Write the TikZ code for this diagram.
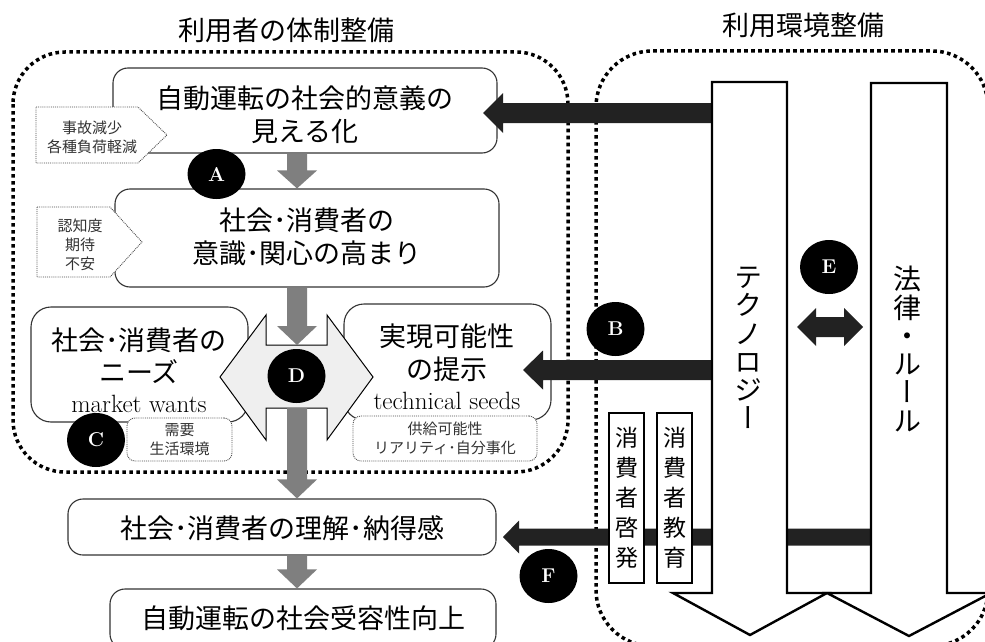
\documentclass[tikz,border=0pt]{standalone}
\usepackage{fontspec}
\usepackage{graphicx}
\usetikzlibrary{calc,shapes.geometric}
\newfontfamily\jp{Noto Sans CJK JP}
\newfontfamily\jpv{Noto Sans CJK JP}[RawFeature=+vert]
\definecolor{blk}{HTML}{222222}
\definecolor{garr}{HTML}{7F7F7F}
\definecolor{dfill}{HTML}{EFEFEF}
\definecolor{edge}{HTML}{333333}
\tikzset{
  region/.style={line width=3.5pt, dash pattern=on 3.6pt off 3.4pt, rounded corners=52pt},
  rbox/.style={rectangle, draw=edge, line width=1.1pt, fill=white, rounded corners=15pt, inner sep=0pt},
  tagline/.style={draw=black!70, line width=0.9pt, densely dotted, fill=white},
  tagtext/.style={font=\jp\fontsize{15}{19}\selectfont, text=black!80, align=center},
  bigtext/.style={font=\jp\fontsize{27}{33}\selectfont, align=center, inner sep=0pt},
  lattext/.style={font=\fontsize{25}{25}\selectfont, inner sep=0pt},
  circlab/.style={ellipse, fill=black, text=white, inner sep=0pt, minimum width=58pt, minimum height=54pt, font=\bfseries\fontsize{20}{20}\selectfont},
  cbox/.style={rectangle, draw=black, line width=1.2pt, fill=white, minimum width=35pt, minimum height=170pt, inner sep=0pt, font=\jp\fontsize{23}{30}\selectfont, align=center},
  vtext/.style={font=\jpv\fontsize{28}{28.3}\selectfont, align=center, inner sep=0pt},
  bigarrow/.style={draw=black, line width=2.4pt, fill=white, line join=miter}
}
% left-pointing block arrow: #1 start, #2 tip, #3 shaft half, #4 head half, #5 head length, #6 colour
\newcommand\leftblock[6]{%
  \fill[#6] let \p1=(#1), \p2=(#2) in
  (\x2,\y2) -- (\x2+#5pt,\y2+#4pt) -- (\x2+#5pt,\y2+#3pt) -- (\x1,\y2+#3pt)
  -- (\x1,\y2-#3pt) -- (\x2+#5pt,\y2-#3pt) -- (\x2+#5pt,\y2-#4pt) -- cycle;}
% downward block arrow
\newcommand\downblock[6]{%
  \fill[#6] let \p1=(#1), \p2=(#2) in
  (\x2,\y2) -- (\x2-#4pt,\y2+#5pt) -- (\x2-#3pt,\y2+#5pt) -- (\x2-#3pt,\y1)
  -- (\x2+#3pt,\y1) -- (\x2+#3pt,\y2+#5pt) -- (\x2+#4pt,\y2+#5pt) -- cycle;}
\begin{document}
\begin{tikzpicture}[x=1pt,y=-1pt]
\useasboundingbox (0,0) rectangle (985,642);
\fill[white] (0,0) rectangle (985,642);

% titles
\node[bigtext] (t1) at (286,30) {利用者の体制整備};
\node[bigtext] (t2) at (803,25) {利用環境整備};

% dotted regions
\draw[region] (13,52) rectangle (568,472);
\draw[region, rounded corners=56pt] (596,51) rectangle (988,646);

% boxes
\node[rbox, minimum width=384pt, minimum height=85pt] (b1) at (305,110.5) {};
\node[bigtext] (b1t) at (305,115) {自動運転の社会的意義の\\見える化};
\node[rbox, minimum width=384pt, minimum height=98pt] (b2) at (307,238) {};
\node[bigtext] (b2t) at (307,237) {社会･消費者の\\意識･関心の高まり};
\node[rbox, rounded corners=20pt, minimum width=217pt, minimum height=115pt] (bn) at (139.5,364.5) {};
\node[bigtext, font=\jp\fontsize{27}{32}\selectfont] (bnt) at (139,356) {社会･消費者の\\ニーズ};
\node[lattext] (bnl) at (139,404) {market wants};
\node[rbox, rounded corners=20pt, minimum width=207pt, minimum height=116pt] (bs) at (447.5,362) {};
\node[bigtext] (bst) at (447,353) {実現可能性\\の提示};
\node[lattext] (bsl) at (447,401) {technical seeds};
\node[rbox, minimum width=428pt, minimum height=56pt] (b3) at (282,527) {};
\node[bigtext] (b3t) at (282,528) {社会･消費者の理解･納得感};
\node[rbox, minimum width=386pt, minimum height=60pt] (b4) at (303,619) {};
\node[bigtext] (b4t) at (303,618) {自動運転の社会受容性向上};

% tags
\draw[tagline] (36,107) -- (138,107) -- (167,135) -- (138,163) -- (36,163) -- cycle;
\node[tagtext] (tg1) at (92,137) {事故減少\\各種負荷軽減};
\draw[tagline] (37,207) -- (110,207) -- (142,242) -- (110,277) -- (37,277) -- cycle;
\node[tagtext] (tg2) at (80,245) {認知度\\期待\\不安};
\node[tagline, tagtext, rounded corners=8pt, minimum width=105pt, minimum height=43pt, inner sep=0pt] (tg3) at (179.5,439.5) {需要\\生活環境};
\node[tagline, tagtext, rounded corners=8pt, minimum width=184pt, minimum height=45pt, inner sep=0pt] (tg4) at (445,438.5) {供給可能性\\リアリティ･自分事化};

% D double arrow
\coordinate (Dtop) at (297,345);
\coordinate (Dbot) at (297,408);
\draw[draw=black, line width=1pt, fill=dfill] (220,377) -- (266,315) -- (266,345) -- (327,345) -- (327,315)
  -- (373,377) -- (327,440) -- (327,408) -- (266,408) -- (266,440) -- cycle;

% grey flow arrows
\coordinate (gx) at (297,0);
\downblock{gx |- b1.south}{gx |- b2.north}{10}{20}{18}{garr}
\downblock{gx |- b2.south}{Dtop}{10}{20}{19}{garr}
\downblock{Dbot}{gx |- b3.north}{10}{20}{19}{garr}
\downblock{gx |- b3.south}{gx |- b4.north}{10}{20}{19}{garr}

% black arrows
\coordinate (sTop) at (712,113);
\coordinate (tTop) at (483,113);
\coordinate (sB) at (712,370);
\coordinate (tB) at (523,370);
\coordinate (sF) at (871,537);
\coordinate (tF) at (503,537);
\leftblock{sTop}{tTop}{10}{20}{20}{blk}
\leftblock{sB}{tB}{10}{19.5}{20}{blk}
\leftblock{sF}{tF}{8.5}{16.5}{16}{blk}

% big white arrows
\draw[bigarrow] (871,83) -- (947,83) -- (947,593) -- (991,593) -- (909,636) -- (827,593) -- (871,593) -- cycle;
\draw[bigarrow] (712,82) -- (787,82) -- (787,593) -- (827,593) -- (750,635) -- (673,593) -- (712,593) -- cycle;
\node[vtext] (tech) at (748,348) {テ\\ク\\ノ\\ロ\\ジ\\ー};
\node[vtext] (law) at (907,349) {法\\律\\・\\ル\\ー\\ル};

% consumer boxes
\node[cbox] (cb1) at (626.5,498) {消\\費\\者\\啓\\発};
\node[cbox] (cb2) at (674.5,498) {消\\費\\者\\教\\育};

% E double arrow
\coordinate (eL) at (797,327);
\fill[blk] (eL) -- ++(19,-19) -- ++(0,9) -- ++(28,0) -- ++(0,-9) -- ++(19,19)
  -- ++(-19,19) -- ++(0,-9) -- ++(-28,0) -- ++(0,9) -- cycle;

% circles
\node[circlab, minimum height=50pt] (cA) at (216.5,174) {A};
\node[circlab] (cB) at (615.5,329) {B};
\node[circlab] (cC) at (96,440) {C};
\node[circlab] (cD) at (296.5,376) {D};
\node[circlab] (cE) at (829,267) {E};
\node[circlab] (cF) at (548.5,576) {F};
\end{tikzpicture}
\end{document}
